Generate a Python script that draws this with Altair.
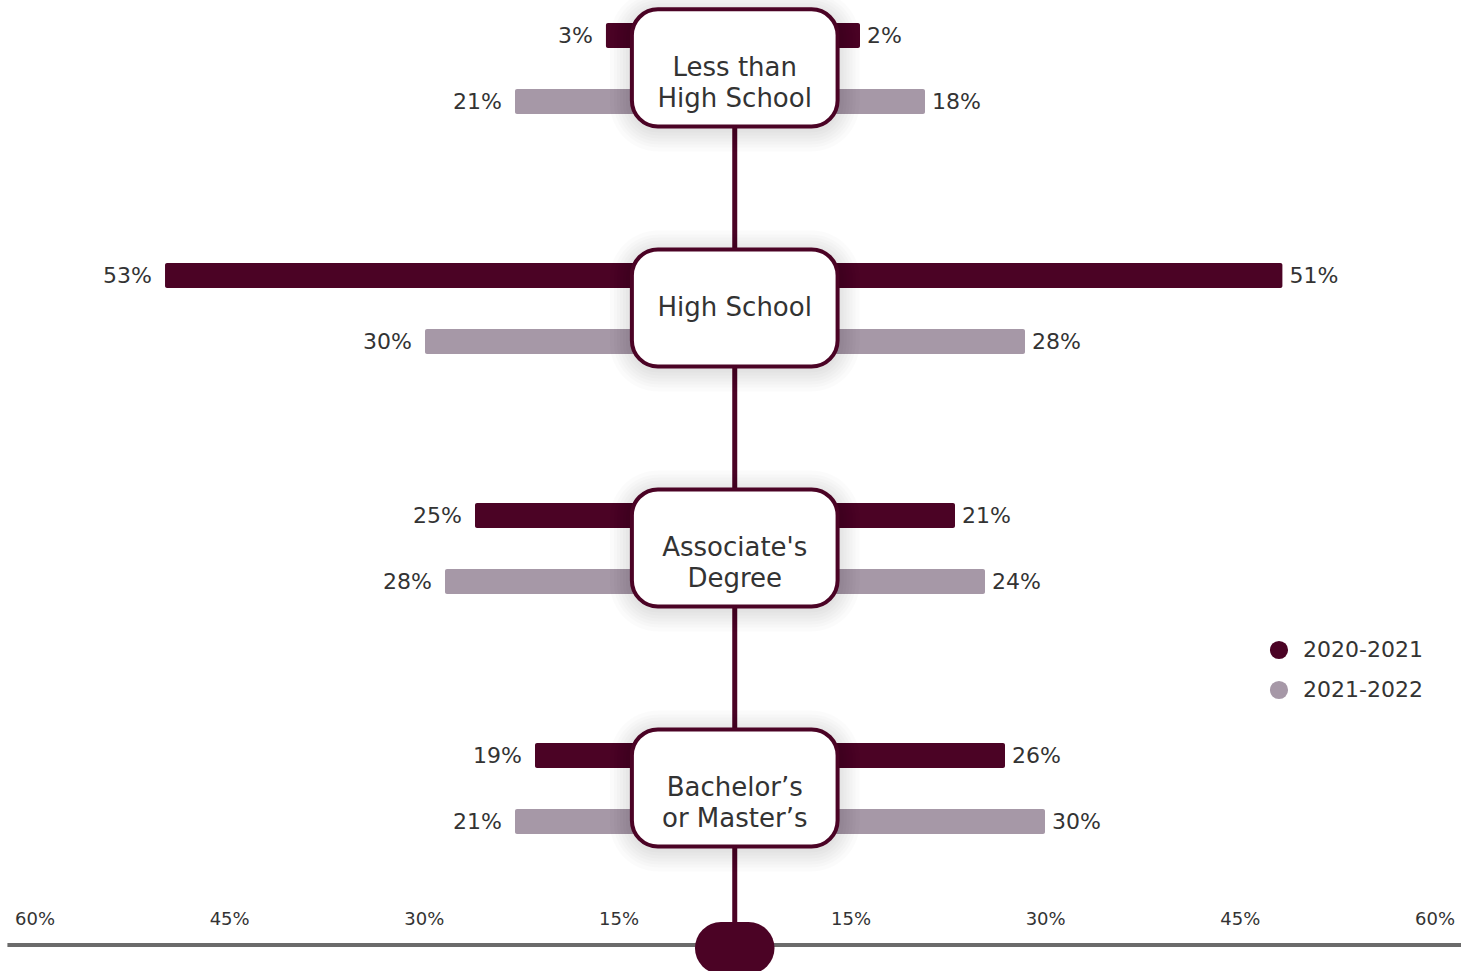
import altair as alt
import pandas as pd

# ---- data ----
categories = ["Less than\nHigh School", "High School", "Associate's\nDegree", "Bachelor’s\nor Master’s"]
series = ["2020-2021", "2021-2022"]
left_2020 = [3, 53, 25, 19]
left_2021 = [21, 30, 28, 21]
right_2020 = [2, 51, 21, 26]
right_2021 = [18, 28, 24, 30]
tick_values = [15, 30, 45, 60]

# ---- styling constants ----
DARK = "#4B0325"
LIGHT = "#A698A7"
TEXT = "#333333"
FONT = "DejaVu Sans"
W, H = 1461, 971
PX_PER_UNIT = 10.602          # decoration scale (linear, px per unit)
PX_PER_ROW = 240.0
SERIES_OFFSET = {"2020-2021": -0.135, "2021-2022": 0.14}
BOX_HALF_W = 9.7
BOX_HALF_H = 0.244
AXIS_Y = 3.654

rows = []
for i, cat in enumerate(categories):
    for s, lv, rv in ((series[0], left_2020[i], right_2020[i]), (series[1], left_2021[i], right_2021[i])):
        rows.append(dict(cat=cat, series=s, side="left", v=-lv, label=f"{lv}%", y=i + SERIES_OFFSET[s], zero=0))
        rows.append(dict(cat=cat, series=s, side="right", v=rv, label=f"{rv}%", y=i + SERIES_OFFSET[s], zero=0))
bars = pd.DataFrame(rows)

n = len(categories)
boxes = pd.DataFrame(dict(
    cat=categories,
    y=list(range(n)),
    y1=[i - BOX_HALF_H for i in range(n)],
    y2=[i + BOX_HALF_H for i in range(n)],
    x1=-BOX_HALF_W, x2=BOX_HALF_W, x=0,
))

ys = alt.Scale(domain=[-0.283, 3.7625], reverse=True, nice=False, zero=False, padding=0)
xs = alt.Scale(domain=[-69.3, 68.5], nice=False, zero=False, padding=0)

# soft drop shadow: a few slightly larger translucent rounded rects
shadow_layers = []
for e in [3, 6, 9, 12, 15, 18, 22]:
    ex = e / PX_PER_UNIT
    ey = e / PX_PER_ROW
    dy = 3 / PX_PER_ROW
    sd = pd.DataFrame(dict(
        x1=[-BOX_HALF_W - ex] * n, x2=[BOX_HALF_W + ex] * n,
        y1=[i - BOX_HALF_H - ey + dy for i in range(n)],
        y2=[i + BOX_HALF_H + ey + dy for i in range(n)],
    ))
    shadow_layers.append(
        alt.Chart(sd).mark_rect(fill="black", opacity=0.016, cornerRadius=26 + e).encode(
            x=alt.X("x1:Q", scale=xs, axis=None), x2="x2:Q",
            y=alt.Y("y1:Q", scale=ys, axis=None), y2="y2:Q",
        )
    )

ticks = pd.DataFrame(dict(
    t=[-v for v in reversed(tick_values)] + tick_values,
    label=[f"{v}%" for v in reversed(tick_values)] + [f"{v}%" for v in tick_values],
    y=3.55,
))

one = pd.DataFrame({"a": [0]})

# ---- decoration behind bars (linear scale) ----
axis_line = alt.Chart(one).mark_rule(color="#6B6B6B", strokeWidth=4).encode(
    x=alt.datum(-68.6, scale=xs, axis=None),
    x2=alt.datum(68.5),
    y=alt.datum(AXIS_Y, scale=ys, axis=None),
)
stem = alt.Chart(one).mark_rule(color=DARK, strokeWidth=5).encode(
    x=alt.datum(0, scale=xs, axis=None),
    y=alt.datum(0, scale=ys, axis=None),
    y2=alt.datum(AXIS_Y),
)
pill = alt.Chart(one).mark_rule(color=DARK, strokeWidth=52, strokeCap="round").encode(
    x=alt.datum(-1.3, scale=xs, axis=None),
    x2=alt.datum(1.3),
    y=alt.datum(3.667, scale=ys, axis=None),
)
back = alt.layer(axis_line, stem, pill)

# ---- bars: diverging from the centre, breaks follow the reference's spacing ----
xb = alt.Scale(domain=[-67.6, -30, -18, -2, 0, 2, 18, 30, 66.8],
               range=[0, 425, 545, 610, 735, 860, 925, 1045, 1461], nice=False, zero=False)

bar_layer = alt.Chart(bars).mark_bar(size=25, cornerRadius=2).encode(
    x=alt.X("v:Q", scale=xb, axis=None),
    x2="zero:Q",
    y=alt.Y("y:Q", scale=ys, axis=None),
    color=alt.Color("series:N", scale=alt.Scale(domain=series, range=[DARK, LIGHT]),
                    legend=alt.Legend(title=None, orient="none", legendX=1268, legendY=639,
                                      symbolType="circle", symbolSize=330, symbolStrokeWidth=0,
                                      symbolOpacity=1, labelFontSize=22, labelFont=FONT,
                                      labelColor=TEXT, labelOffset=13, rowPadding=18, padding=0)),
)
left_labels = alt.Chart(bars).transform_filter(alt.datum.side == "left").mark_text(
    align="right", baseline="middle", dx=-13, fontSize=22, font=FONT, color=TEXT
).encode(x=alt.X("v:Q", scale=xb, axis=None), y=alt.Y("y:Q", scale=ys, axis=None), text="label:N")
right_labels = alt.Chart(bars).transform_filter(alt.datum.side == "right").mark_text(
    align="left", baseline="middle", dx=7, fontSize=22, font=FONT, color=TEXT
).encode(x=alt.X("v:Q", scale=xb, axis=None), y=alt.Y("y:Q", scale=ys, axis=None), text="label:N")
mid = alt.layer(bar_layer, left_labels, right_labels)

# ---- boxes on top (linear scale) ----
box_layer = alt.Chart(boxes).mark_rect(fill="white", stroke=DARK, strokeWidth=4, cornerRadius=26).encode(
    x=alt.X("x1:Q", scale=xs, axis=None), x2="x2:Q",
    y=alt.Y("y1:Q", scale=ys, axis=None), y2="y2:Q",
)
box_text = alt.Chart(boxes).mark_text(
    lineBreak="\n", fontSize=26, lineHeight=31, font=FONT, color=TEXT, baseline="middle", align="center"
).encode(
    x=alt.X("x:Q", scale=xs, axis=None),
    y=alt.Y("y:Q", scale=ys, axis=None),
    text="cat:N",
)
front = alt.layer(*shadow_layers, box_layer, box_text)

# ---- bottom tick labels ----
tick_layer = alt.Chart(ticks).mark_text(fontSize=18, font=FONT, color=TEXT, baseline="middle", align="center").encode(
    x=alt.X("t:Q", scale=alt.Scale(domain=[-60, -15, 15, 60], range=[35, 619, 851, 1435], nice=False, zero=False), axis=None),
    y=alt.Y("y:Q", scale=ys, axis=None),
    text="label:N",
)

chart = alt.layer(back, mid, front, tick_layer).resolve_scale(x="independent").properties(
    width=W, height=H, padding=0, autosize=alt.AutoSizeParams(type="none"), background="white"
).configure_view(stroke=None)

chart.save("out.html", embed_options={"renderer": "svg", "actions": False})
